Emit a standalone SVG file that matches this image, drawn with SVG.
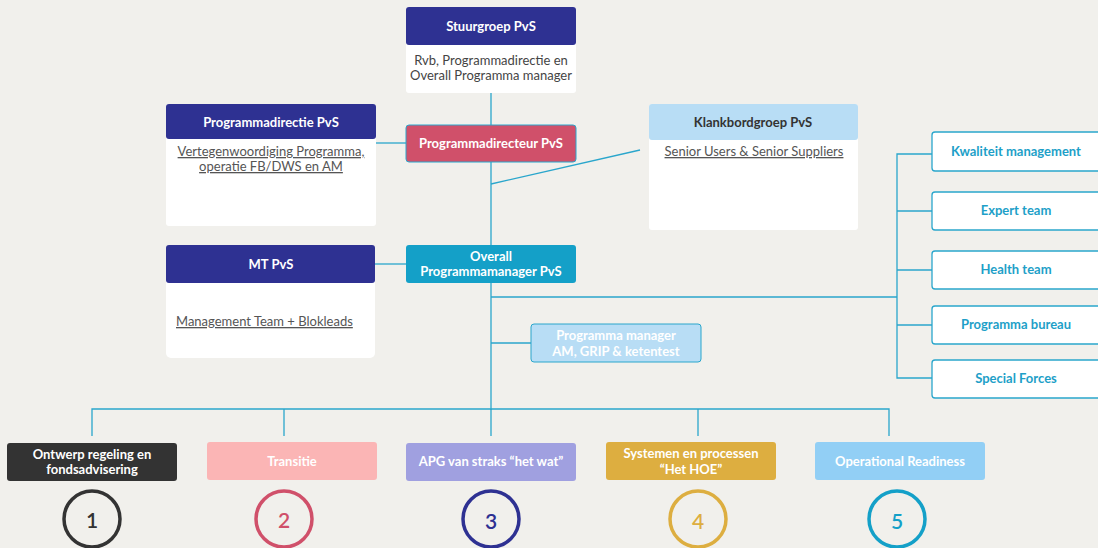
<svg xmlns="http://www.w3.org/2000/svg" width="1098" height="548" viewBox="0 0 1098 548">
  <defs>
    <style>
      text { font-family: Lato, "Open Sans", sans-serif; text-anchor: middle; }
      .hd { font-weight: bold; font-size: 13px; fill: #ffffff; }
      .hdk { font-weight: bold; font-size: 13px; fill: #333333; }
      .bd { font-size: 13px; fill: #444444; }
      .ul { font-size: 13px; fill: #555555; text-decoration: underline; }
      .tl { font-weight: bold; font-size: 13px; fill: #1E9FC8; }
      .num { font-weight: 600; font-size: 21px; }
      .conn { stroke: #2AA6CC; stroke-width: 1.3; fill: none; }
      .white { fill: #ffffff; }
      .side { fill: #ffffff; stroke: #2AA6CC; stroke-width: 1.3; }
      .ring { fill: none; stroke-width: 3.5; }
    </style>
  </defs>
  <rect x="0" y="0" width="1098" height="548" fill="#F1F0EC"/>

  <!-- connectors -->
  <g id="connectors">
    <line class="conn" x1="491" y1="93" x2="491" y2="410"/>
    <line class="conn" x1="376" y1="143" x2="406" y2="143"/>
    <line class="conn" x1="491" y1="184" x2="640" y2="150"/>
    <line class="conn" x1="375" y1="264" x2="406" y2="264"/>
    <line class="conn" x1="491" y1="297" x2="897" y2="297"/>
    <line class="conn" x1="491" y1="343" x2="531" y2="343"/>
    <polyline class="conn" points="932,154 897,154 897,378 932,378"/>
    <line class="conn" x1="897" y1="211" x2="932" y2="211"/>
    <line class="conn" x1="897" y1="270" x2="932" y2="270"/>
    <line class="conn" x1="897" y1="325" x2="932" y2="325"/>
    <polyline class="conn" points="92,436 92,409 889,409 889,436"/>
    <line class="conn" x1="284" y1="409" x2="284" y2="436"/>
    <line class="conn" x1="491" y1="409" x2="491" y2="436"/>
    <line class="conn" x1="698" y1="409" x2="698" y2="436"/>
  </g>

  <g id="stuurgroep">
    <rect class="white" x="406" y="7" width="170" height="86" rx="3"/>
    <rect x="406" y="7" width="170" height="38" rx="3" fill="#2E3192"/>
    <text class="hd" x="491" y="31">Stuurgroep PvS</text>
    <text class="bd" x="491" y="65">Rvb, Programmadirectie en</text>
    <text class="bd" x="491" y="80">Overall Programma manager</text>
  </g>

  <g id="programmadirectie">
    <rect class="white" x="166" y="104" width="210" height="122" rx="3"/>
    <rect x="166" y="104" width="210" height="35" rx="3" fill="#2E3192"/>
    <text class="hd" x="271" y="127">Programmadirectie PvS</text>
    <text class="ul" x="271" y="156">Vertegenwoordiging Programma,</text>
    <text class="ul" x="271" y="171">operatie FB/DWS en AM</text>
  </g>

  <g id="programmadirecteur">
    <rect x="406" y="125" width="170" height="37" rx="3" fill="#D0506A" stroke="#2AA6CC" stroke-width="1"/>
    <text class="hd" x="491" y="148">Programmadirecteur PvS</text>
  </g>

  <g id="klankbordgroep">
    <rect class="white" x="649" y="104" width="209" height="126" rx="3"/>
    <rect x="649" y="104" width="209" height="36" rx="3" fill="#B8DDF5"/>
    <text class="hdk" x="753" y="127">Klankbordgroep PvS</text>
    <text class="ul" x="754" y="156">Senior Users &amp; Senior Suppliers</text>
  </g>

  <g id="mt">
    <rect class="white" x="166" y="245" width="209" height="113" rx="5"/>
    <rect x="166" y="245" width="209" height="38" rx="3" fill="#2E3192"/>
    <text class="hd" x="271" y="269">MT PvS</text>
    <text class="ul" x="176" y="326" style="text-anchor:start">Management Team + Blokleads</text>
  </g>

  <g id="overall">
    <rect x="406" y="245" width="170" height="38" rx="3" fill="#14A0C8"/>
    <text class="hd" x="491" y="261">Overall</text>
    <text class="hd" x="491" y="276">Programmamanager PvS</text>
  </g>

  <g id="programmamanager">
    <rect x="531" y="324" width="170" height="38" rx="3" fill="#B8DDF5" stroke="#2AA6CC" stroke-width="1"/>
    <text class="hd" x="616" y="340">Programma manager</text>
    <text class="hd" x="616" y="356">AM,  GRIP &amp; ketentest</text>
  </g>

  <g id="kwaliteit">
    <rect class="side" x="932" y="132" width="175" height="39" rx="3"/>
    <text class="tl" x="1016" y="156">Kwaliteit management</text>
  </g>
  <g id="expert">
    <rect class="side" x="932" y="192" width="175" height="38" rx="3"/>
    <text class="tl" x="1016" y="215">Expert team</text>
  </g>
  <g id="health">
    <rect class="side" x="932" y="251" width="175" height="38" rx="3"/>
    <text class="tl" x="1016" y="274">Health team</text>
  </g>
  <g id="bureau">
    <rect class="side" x="932" y="306" width="175" height="38" rx="3"/>
    <text class="tl" x="1016" y="329">Programma bureau</text>
  </g>
  <g id="special">
    <rect class="side" x="932" y="360" width="175" height="38" rx="3"/>
    <text class="tl" x="1016" y="383">Special Forces</text>
  </g>

  <g id="stream1">
    <rect x="7" y="443" width="170" height="38" rx="3" fill="#333333"/>
    <text class="hd" x="92" y="459">Ontwerp regeling en</text>
    <text class="hd" x="92" y="474">fondsadvisering</text>
    <circle class="ring" cx="92" cy="519" r="28" stroke="#333333"/>
    <text class="num" x="92" y="528" fill="#333333">1</text>
  </g>
  <g id="stream2">
    <rect x="207" y="442" width="170" height="38" rx="3" fill="#FBB5B5"/>
    <text class="hd" x="292" y="466">Transitie</text>
    <circle class="ring" cx="284" cy="519" r="28" stroke="#D0506A"/>
    <text class="num" x="284" y="528" fill="#D0506A">2</text>
  </g>
  <g id="stream3">
    <rect x="406" y="443" width="170" height="38" rx="3" fill="#A0A0E0"/>
    <text class="hd" x="491" y="466">APG van straks “het wat”</text>
    <circle class="ring" cx="491" cy="519" r="28" stroke="#2E3192"/>
    <text class="num" x="491" y="529" fill="#2E3192">3</text>
  </g>
  <g id="stream4">
    <rect x="606" y="442" width="170" height="38" rx="3" fill="#DDAE40"/>
    <text class="hd" x="691" y="458">Systemen en processen</text>
    <text class="hd" x="691" y="474">“Het HOE”</text>
    <circle class="ring" cx="698" cy="519" r="28" stroke="#DDAE40"/>
    <text class="num" x="698" y="529" fill="#DDAE40">4</text>
  </g>
  <g id="stream5">
    <rect x="815" y="442" width="170" height="38" rx="3" fill="#92CFF5"/>
    <text class="hd" x="900" y="466">Operational Readiness</text>
    <circle class="ring" cx="897" cy="519" r="28" stroke="#14A0C8"/>
    <text class="num" x="897" y="529" fill="#14A0C8">5</text>
  </g>
</svg>
